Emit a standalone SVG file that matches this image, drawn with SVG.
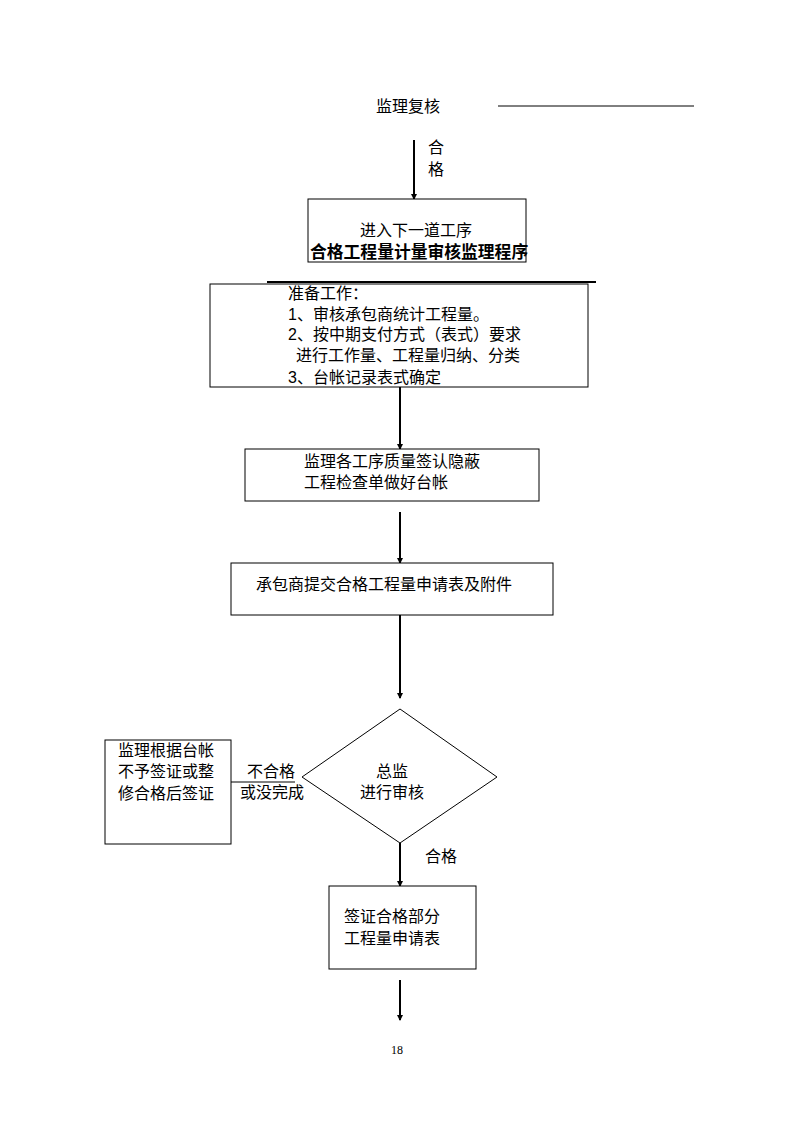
<svg xmlns="http://www.w3.org/2000/svg" width="794" height="1123" viewBox="0 0 794 1123">
<style>
text{font-family:"Liberation Sans","Noto Sans CJK SC",sans-serif;font-size:16px;fill:#000}
.b{font-weight:bold;font-size:16.8px}
.box{fill:#fff;stroke:#000;stroke-width:1}
.ln{stroke:#000;stroke-width:2;fill:none}
.thin{stroke:#000;stroke-width:1;fill:none}
.pg{font-family:"Liberation Serif",serif;font-size:12px}
</style>
<defs>
<marker id="ah" markerWidth="6" markerHeight="6" refX="5" refY="3" orient="auto" markerUnits="userSpaceOnUse">
<path d="M0,0 L6,3 L0,6 z" fill="#000"/>
</marker>
</defs>
<g id="connectors">
<line class="thin" x1="498" y1="106" x2="694" y2="106"/>
<line class="ln" x1="414" y1="140" x2="414" y2="199" marker-end="url(#ah)"/>
<line class="ln" x1="267" y1="282" x2="596" y2="282"/>
<line class="ln" x1="400" y1="387" x2="400" y2="449" marker-end="url(#ah)"/>
<line class="ln" x1="400" y1="512" x2="400" y2="563" marker-end="url(#ah)"/>
<line class="ln" x1="400" y1="615" x2="400" y2="698" marker-end="url(#ah)"/>
<line class="thin" x1="231" y1="782" x2="295" y2="782"/>
<line class="ln" x1="400" y1="843" x2="400" y2="886" marker-end="url(#ah)"/>
<line class="ln" x1="400" y1="980" x2="400" y2="1020" marker-end="url(#ah)"/>
<text x="428" y="153">合</text>
<text x="428" y="175">格</text>
<text x="247" y="777">不合格</text>
<text x="240" y="798">或没完成</text>
<text x="425" y="862">合格</text>
</g>
<g id="n0"><text x="376" y="112">监理复核</text></g>
<g id="n1">
<rect class="box" x="308" y="199" width="218" height="63"/>
<text x="360" y="236">进入下一道工序</text>
<text class="b" x="310" y="258">合格工程量计量审核监理程序</text>
</g>
<g id="n2">
<rect class="box" x="210" y="284" width="378" height="103"/>
<text x="288" y="299">准备工作：</text>
<text x="288" y="320">1、审核承包商统计工程量。</text>
<text x="288" y="340">2、按中期支付方式（表式）要求</text>
<text x="296" y="361">进行工作量、工程量归纳、分类</text>
<text x="288" y="383">3、台帐记录表式确定</text>
</g>
<g id="n3">
<rect class="box" x="245" y="449" width="294" height="52"/>
<text x="304" y="467">监理各工序质量签认隐蔽</text>
<text x="304" y="488">工程检查单做好台帐</text>
</g>
<g id="n4">
<rect class="box" x="231" y="563" width="322" height="52"/>
<text x="256" y="590">承包商提交合格工程量申请表及附件</text>
</g>
<g id="n5">
<polygon class="box" points="400,709 497,777 400,843 302,777"/>
<text x="376" y="777">总监</text>
<text x="360" y="798">进行审核</text>
</g>
<g id="n6">
<rect class="box" x="105" y="740" width="126" height="104"/>
<text x="118" y="756">监理根据台帐</text>
<text x="118" y="777">不予签证或整</text>
<text x="118" y="799">修合格后签证</text>
</g>
<g id="n7">
<rect class="box" x="329" y="886" width="147" height="83"/>
<text x="344" y="922">签证合格部分</text>
<text x="344" y="944">工程量申请表</text>
</g>
<text class="pg" x="391" y="1054">18</text>
</svg>
